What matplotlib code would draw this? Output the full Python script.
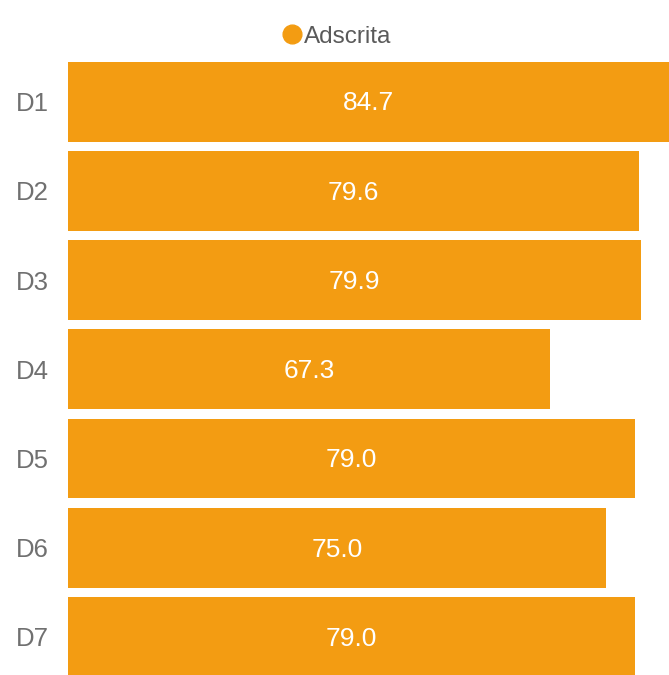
import matplotlib.pyplot as plt
from matplotlib.lines import Line2D

# ---------- Data ----------
categories = ['D1', 'D2', 'D3', 'D4', 'D5', 'D6', 'D7']
values = [84.7, 79.6, 79.9, 67.3, 79.0, 75.0, 79.0]
series_name = 'Adscrita'

BAR_COLOR = '#F39C12'
TEXT_GREY = '#707070'

plt.rcParams['font.family'] = ['Liberation Sans', 'DejaVu Sans']

W, H = 669, 675
fig = plt.figure(figsize=(W / 100, H / 100), dpi=100)

# axes box in pixels: left 68, right 669, top ~57, bottom 675
ax_top = 56.9
ax = fig.add_axes([68 / W, 0, 1 - 68 / W, (H - ax_top) / H])

y = list(range(len(categories)))
ax.barh(y, values, height=0.896, color=BAR_COLOR, edgecolor='none')

xmin, xmax = 0.69, 83.72
ax.set_xlim(xmin, xmax)
ax.set_ylim(6.426, -0.5)

# value labels centred in the visible part of each bar
for yi, v in zip(y, values):
    xc = (max(xmin, 0) + min(v, xmax)) / 2
    ax.text(xc, yi + 0.02, f'{v:.1f}', color='white', fontsize=19,
            ha='center', va='center')

ax.set_yticks(y)
ax.set_yticklabels(categories, fontsize=18.5, color=TEXT_GREY)
ax.tick_params(axis='y', length=0, pad=14)
ax.set_xticks([])
for s in ax.spines.values():
    s.set_visible(False)

handle = Line2D([], [], marker='o', linestyle='none', markersize=13.5,
                markerfacecolor=BAR_COLOR, markeredgecolor=BAR_COLOR)
fig.legend([handle], [series_name], loc='center', bbox_to_anchor=(0.502, 1 - 36.5 / H),
           frameon=False, fontsize=17.5, handletextpad=0.0, handlelength=1.0,
           labelcolor='#5A5A5A', borderaxespad=0)

fig.savefig('out.png', dpi=100)
